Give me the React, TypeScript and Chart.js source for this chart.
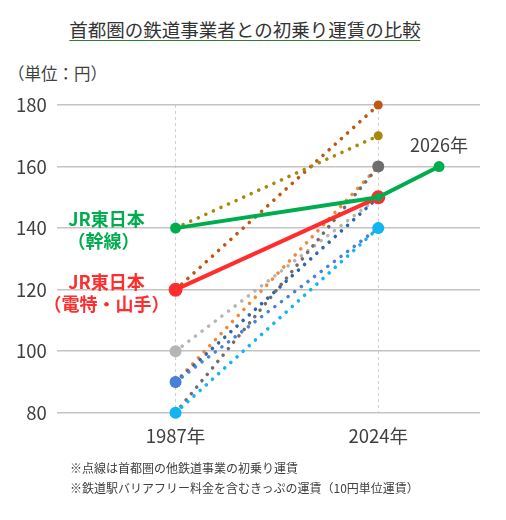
import React, { useEffect, useRef } from 'react';
import { Chart, registerables } from 'chart.js';

Chart.register(...registerables);

const FONT = "'Noto Sans CJK JP', 'Noto Sans', sans-serif";

// x slots: 1987年, 2024年, 2026年 (2026 is drawn just right of 2024)
const xSlots = [0, 1, 1.3];
const tickLabels = ['1987年', '2024年'];
const yTicks = { min: 80, max: 180, step: 20 };

// JR East
const jrTrunk = [140, 150, 160]; // 幹線 1987, 2024, 2026
const jrUrban = [120, 150]; // 電特・山手 1987, 2024

// other Tokyo-area operators (1987 -> 2024)
const opBrown = [120, 180];
const opOlive = [140, 170];
const opDarkGray = [80, 160];
const opOrange = [90, 160];
const opLightGray = [100, 150];
const opDarkBlue = [90, 150];
const opBlue = [90, 140];
const opCyan = [80, 140];

// listed top-most first
const dotted = [
  { values: opCyan, color: '#12B4F2', r: [6, 6] },
  { values: opBlue, color: '#4A7FDC', r: [6, 5.5] },
  { values: opDarkGray, color: '#6E6E6E', r: [5.5, 6] },
  { values: opDarkBlue, color: '#2F66A8', r: [5.5, 5.5] },
  { values: opOrange, color: '#F08A3A', r: [5.5, 5.5] },
  { values: opLightGray, color: '#B5B5B5', r: [6, 5.5] },
  { values: opOlive, color: '#A8870A', r: [4.5, 4.5] },
  { values: opBrown, color: '#C0560F', r: [4.5, 4.5] },
];

const GREEN = '#00AD4E';
const RED = '#FF2E2E';

const labelPlugin = {
  id: 'jrLabels',
  afterDatasetsDraw(chart: any) {
    const { ctx, scales } = chart;
    const x = scales.x;
    const y = scales.y;
    const x0 = x.getPixelForValue(xSlots[0]);
    ctx.save();
    ctx.textAlign = 'center';
    ctx.textBaseline = 'middle';
    ctx.font = `bold 18px ${FONT}`;
    ctx.fillStyle = GREEN;
    const gy = y.getPixelForValue(jrTrunk[0]);
    ctx.fillText('JR東日本', x0 - 69, gy - 9);
    ctx.fillText('（幹線）', x0 - 72, gy + 13);
    ctx.fillStyle = RED;
    const ry = y.getPixelForValue(jrUrban[0]);
    ctx.fillText('JR東日本', x0 - 69, ry - 8);
    ctx.fillText('（電特・山手）', x0 - 69, ry + 14);
    ctx.font = `18px ${FONT}`;
    ctx.fillStyle = '#404040';
    ctx.fillText('2026年', x.getPixelForValue(xSlots[2]), y.getPixelForValue(jrTrunk[2]) - 21);
    ctx.restore();
  },
};

export default function App() {
  const ref = useRef<HTMLCanvasElement | null>(null);

  useEffect(() => {
    if (!ref.current) return;
    const datasets: any[] = [
      {
        label: 'JR東日本（幹線）',
        data: jrTrunk.map((v, i) => ({ x: xSlots[i], y: v })),
        borderColor: GREEN,
        backgroundColor: GREEN,
        borderWidth: 4,
        pointRadius: [5.5, 4, 5.5],
        pointBorderWidth: 0,
        order: 0,
        clip: false,
      },
      {
        label: 'JR東日本（電特・山手）',
        data: jrUrban.map((v, i) => ({ x: xSlots[i], y: v })),
        borderColor: RED,
        backgroundColor: RED,
        borderWidth: 4,
        pointRadius: 7,
        pointBorderWidth: 0,
        order: 1,
        clip: false,
      },
      ...dotted.map((d, k) => ({
        label: 'op' + k,
        data: d.values.map((v, i) => ({ x: xSlots[i], y: v })),
        borderColor: d.color,
        backgroundColor: d.color,
        borderWidth: 3.6,
        borderDash: [0.01, 8.3],
        borderCapStyle: 'round',
        pointRadius: d.r,
        pointBorderWidth: 0,
        order: 2 + k,
        clip: false,
      })),
    ];

    const chart = new Chart(ref.current, {
      type: 'line',
      data: { datasets },
      plugins: [labelPlugin],
      options: {
        animation: false,
        responsive: true,
        maintainAspectRatio: false,
        layout: { padding: { left: 6, right: 26, top: 105, bottom: 61 } },
        plugins: { legend: { display: false }, tooltip: { enabled: false }, title: { display: false } },
        scales: {
          x: {
            type: 'linear',
            min: -0.586,
            max: 1.502,
            afterBuildTicks: (axis: any) => {
              axis.ticks = tickLabels.map((_, i) => ({ value: xSlots[i] }));
            },
            ticks: {
              callback: (v: any) => tickLabels[xSlots.indexOf(Number(v))] ?? '',
              font: { family: FONT, size: 18.5 },
              color: '#404040',
              padding: 12,
              maxRotation: 0,
            },
            grid: { color: '#D0D0D0', lineWidth: 1, drawTicks: false },
            border: { display: false, dash: [3, 3] },
          },
          y: {
            min: yTicks.min,
            max: yTicks.max,
            ticks: {
              stepSize: yTicks.step,
              font: { family: FONT, size: 18.5 },
              color: '#404040',
              padding: 10,
            },
            grid: { color: '#C4C4C4', lineWidth: 1.5, drawTicks: false },
            border: { display: false },
          },
        },
      } as any,
    });
    return () => chart.destroy();
  }, []);

  return (
    <div style={{ position: 'absolute', left: 0, top: 0, width: 506, height: 520, background: '#fff', fontFamily: FONT, color: '#333' }}>
      <div
        style={{
          position: 'absolute',
          left: 245,
          top: 18,
          transform: 'translateX(-50%)',
          whiteSpace: 'nowrap',
          fontSize: 18.5,
          lineHeight: '22px',
          borderBottom: '1.5px solid #2E7D32',
          color: '#333',
        }}
      >
        首都圏の鉄道事業者との初乗り運賃の比較
      </div>
      <div style={{ position: 'absolute', left: 8, top: 63, fontSize: 16.5, lineHeight: '20px', color: '#404040', whiteSpace: 'nowrap' }}>
        （単位：円）
      </div>
      <div style={{ position: 'absolute', left: 0, top: 0, width: 506, height: 520 }}>
        <canvas ref={ref} />
      </div>
      <div style={{ position: 'absolute', left: 70, top: 458, fontSize: 12, lineHeight: '20px', color: '#404040', whiteSpace: 'nowrap' }}>
        <div>※点線は首都圏の他鉄道事業の初乗り運賃</div>
        <div>※鉄道駅バリアフリー料金を含むきっぷの運賃（10円単位運賃）</div>
      </div>
    </div>
  );
}
